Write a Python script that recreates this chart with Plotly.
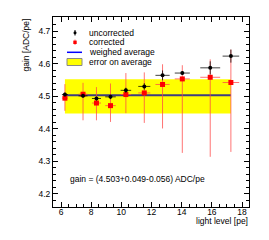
import plotly.graph_objects as go

# ---- data ----
light_level = [6.26, 7.46, 8.35, 9.28, 10.30, 11.52, 12.73, 14.04, 15.89, 17.26]
light_err = [0.20, 0.30, 0.30, 0.35, 0.35, 0.40, 0.47, 0.50, 0.66, 0.55]

gain_uncorr = [4.505, 4.501, 4.493, 4.498, 4.518, 4.530, 4.564, 4.571, 4.587, 4.623]
gain_uncorr_err = [0.006, 0.006, 0.006, 0.007, 0.008, 0.010, 0.015, 0.006, 0.020, 0.020]

gain_corr = [4.494, 4.506, 4.479, 4.471, 4.505, 4.510, 4.536, 4.553, 4.558, 4.542]
gain_corr_err_up = [0.043, 0.035, 0.049, 0.068, 0.066, 0.063, 0.062, 0.042, 0.055, 0.101]
gain_corr_err_dn = [0.039, 0.080, 0.053, 0.050, 0.057, 0.092, 0.135, 0.227, 0.244, 0.213]

avg_gain = 4.503
avg_err_up = 0.049
avg_err_dn = 0.056

FONT = "Liberation Sans, Arial, sans-serif"

fig = go.Figure()

# error band on the average
x_band = [light_level[0], light_level[-1]]
fig.add_trace(go.Scatter(
    x=x_band + x_band[::-1],
    y=[avg_gain + avg_err_up] * 2 + [avg_gain - avg_err_dn] * 2,
    fill="toself", fillcolor="#ffff00", line=dict(width=0),
    mode="lines", hoverinfo="skip", showlegend=False))

# weighted average line
fig.add_trace(go.Scatter(
    x=x_band, y=[avg_gain] * 2, mode="lines",
    line=dict(color="#3d3d80", width=2), showlegend=False))

# corrected
fig.add_trace(go.Scatter(
    x=light_level, y=gain_corr, mode="markers",
    marker=dict(symbol="square", size=5, color="#ff0000"),
    error_y=dict(type="data", symmetric=False, array=gain_corr_err_up,
                 arrayminus=gain_corr_err_dn, color="rgba(255,70,70,0.75)",
                 thickness=1, width=0),
    error_x=dict(type="data", array=light_err, color="rgba(255,70,70,0.75)",
                 thickness=1, width=0),
    showlegend=False))

# uncorrected
fig.add_trace(go.Scatter(
    x=light_level, y=gain_uncorr, mode="markers",
    marker=dict(symbol="circle", size=4, color="#000000"),
    error_y=dict(type="data", array=gain_uncorr_err, color="rgba(0,0,0,0.75)",
                 thickness=1, width=0),
    error_x=dict(type="data", array=light_err, color="rgba(0,0,0,0.75)",
                 thickness=1, width=0),
    showlegend=False))

# ---- geometry helpers (pixel -> paper) ----
L, R, T, B = 53, 249, 17, 207
W, H = R - L, B - T
def px(X):
    return (X - L) / W
def py(Y):
    return (B - Y) / H

shapes = []
annotations = []

# manual legend
rows = [("uncorrected", 32.7), ("corrected", 42.3), ("weighed average", 52.3), ("error on average", 62.0)]
for text, Y in rows:
    annotations.append(dict(x=px(87), y=py(Y), xref="paper", yref="paper", text=text,
                            showarrow=False, xanchor="left", yanchor="middle",
                            font=dict(family=FONT, size=8.5, color="#000")))
# uncorrected glyph
shapes.append(dict(type="line", xref="paper", yref="paper", x0=px(75), x1=px(75), y0=py(30), y1=py(35.5),
                   line=dict(color="#000", width=1)))
shapes.append(dict(type="circle", xref="paper", yref="paper", x0=px(73.5), x1=px(76.5), y0=py(31.2), y1=py(34.2),
                   fillcolor="#000", line=dict(color="#000", width=0)))
# corrected glyph
shapes.append(dict(type="line", xref="paper", yref="paper", x0=px(75), x1=px(75), y0=py(39.5), y1=py(45),
                   line=dict(color="rgba(255,70,70,0.75)", width=1)))
shapes.append(dict(type="rect", xref="paper", yref="paper", x0=px(73.3), x1=px(76.7), y0=py(40.6), y1=py(44),
                   fillcolor="#ff0000", line=dict(width=0)))
# average line glyph
shapes.append(dict(type="line", xref="paper", yref="paper", x0=px(67), x1=px(82), y0=py(52.3), y1=py(52.3),
                   line=dict(color="#0000ff", width=1.5)))
# band glyph
shapes.append(dict(type="rect", xref="paper", yref="paper", x0=px(67), x1=px(82), y0=py(58.5), y1=py(65.5),
                   fillcolor="#ffff00", line=dict(color="#888888", width=1)))

# result text
annotations.append(dict(x=px(68), y=py(179), xref="paper", yref="paper",
                        text="gain = (4.503+0.049-0.056) ADC/pe", showarrow=False,
                        xanchor="left", yanchor="middle",
                        font=dict(family=FONT, size=8.5, color="#000")))
# axis titles
annotations.append(dict(x=px(25), y=py(17), xref="paper", yref="paper",
                        text="gain [ADC/pe]", textangle=-90, showarrow=False,
                        xanchor="center", yanchor="top",
                        font=dict(family=FONT, size=8.5, color="#000")))
annotations.append(dict(x=px(250), y=py(221.5), xref="paper", yref="paper",
                        text="light level [pe]", showarrow=False,
                        xanchor="right", yanchor="middle",
                        font=dict(family=FONT, size=8.5, color="#000")))

axis_common = dict(showgrid=False, zeroline=False, showline=True, linecolor="#000", linewidth=1,
                   mirror="allticks", ticks="inside", ticklen=5, tickcolor="#000", tickwidth=1,
                   tickfont=dict(family=FONT, size=8.5, color="#000"))

fig.update_layout(
    width=269, height=240,
    margin=dict(l=L, r=269 - R, t=T, b=240 - B),
    paper_bgcolor="white", plot_bgcolor="white",
    showlegend=False,
    xaxis=dict(range=[5.47, 18.46], dtick=2, tick0=0, ticklabelstandoff=-3,
               minor=dict(ticks="inside", ticklen=3, dtick=0.5, tickcolor="#000"),
               **axis_common),
    yaxis=dict(range=[4.16, 4.743], dtick=0.1, tick0=0, tickformat=".1f",
               minor=dict(ticks="inside", ticklen=3, dtick=0.02, tickcolor="#000"),
               **axis_common),
    shapes=shapes, annotations=annotations,
)

fig.write_html("out.html", config={"displayModeBar": False},
               post_script="document.body.style.margin='0';document.body.style.overflow='hidden';")
